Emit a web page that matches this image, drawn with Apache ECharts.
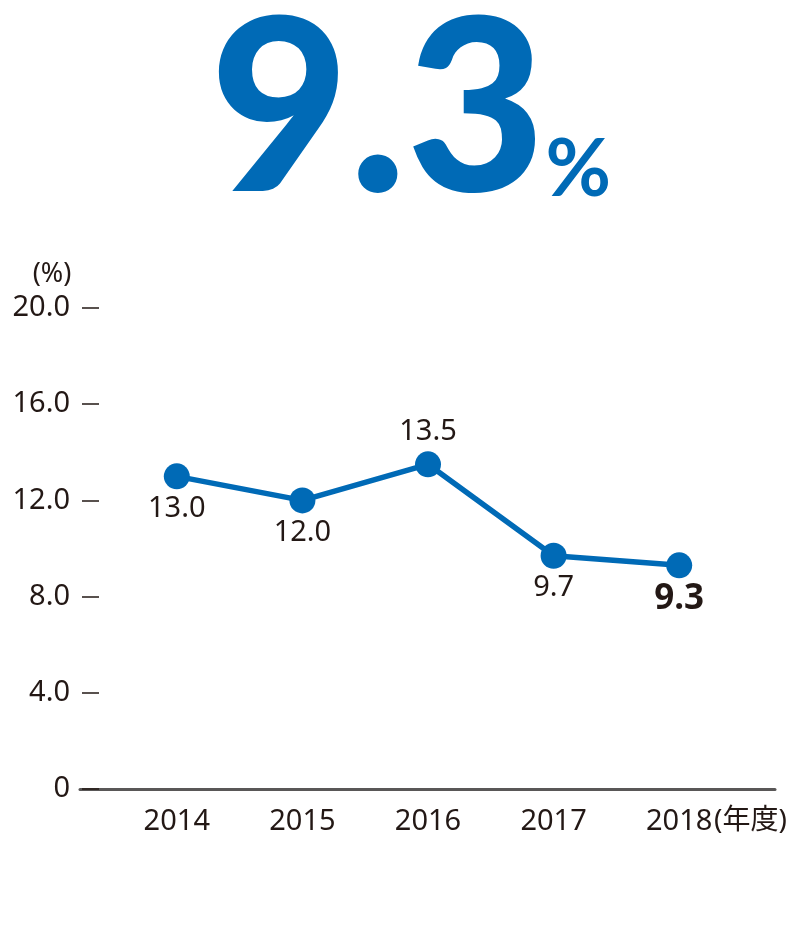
<!DOCTYPE html>
<html>
<head>
<meta charset="utf-8">
<script src="https://cdn.jsdelivr.net/npm/echarts@6/dist/echarts.min.js"></script>
<style>
html,body{margin:0;padding:0;background:#fff;}
#chart{width:800px;height:950px;}
</style>
</head>
<body>
<div id="chart"></div>
<script>
var categories = ['2014', '2015', '2016', '2017', '2018'];
var values = [13.0, 12.0, 13.5, 9.7, 9.3];
var labelPositions = ['bottom', 'bottom', 'top', 'bottom', 'bottom'];
var yTicks = [0, 4, 8, 12, 16, 20];
var headline = '9.3';
var unitName = '(%)';
var yearSuffix = '(年度)';

var BLUE = '#006ab6';
var DARK = '#231815';
var FONT = '"Noto Sans", "Noto Sans CJK JP", sans-serif';

var chart = echarts.init(document.getElementById('chart'), null, {renderer: 'canvas'});

var seriesData = values.map(function (v, i) {
  var last = i === values.length - 1;
  return {
    value: v,
    label: {
      position: labelPositions[i],
      distance: last ? 3 : 5,
      fontSize: last ? 35 : 29,
      fontWeight: last ? 'bold' : 'normal',
      color: DARK
    }
  };
});

var option = {
  animation: false,
  backgroundColor: '#fff',
  title: {
    text: '{a|' + headline + '}{b|%}',
    left: 205,
    top: -11,
    textStyle: {
      rich: {
        a: {fontSize: 240, fontWeight: 900, fontFamily: 'Lato, "Open Sans", sans-serif', color: BLUE, lineHeight: 240},
        b: {fontSize: 80, fontWeight: 'bold', fontFamily: 'Lato, "Open Sans", sans-serif', color: BLUE, verticalAlign: 'bottom', padding: [0,0,24,0]}
      }
    }
  },
  grid: [
    {left: 114, right: 58, top: 308, bottom: 161, containLabel: false},
    {left: 80, right: 25, top: 308, bottom: 161, containLabel: false}
  ],
  xAxis: [
    {
      type: 'category',
      gridIndex: 0,
      data: categories,
      boundaryGap: true,
      axisLine: {show: false},
      axisTick: {show: false},
      axisLabel: {
        interval: 0,
        margin: 18,
        fontSize: 29,
        fontFamily: FONT,
        color: DARK,
        formatter: function (v, idx) {
          if (idx === categories.length - 1) {
            return '{pad|}{y|' + v + '}{s|' + yearSuffix + '}';
          }
          return '{y|' + v + '}';
        },
        rich: {
          y: {fontSize: 29, fontFamily: FONT, color: DARK},
          s: {fontSize: 28, fontFamily: FONT, color: DARK, width: 76},
          pad: {width: 76}
        }
      }
    },
    {
      type: 'value',
      gridIndex: 1,
      min: 0,
      max: 1,
      axisLine: {show: true, lineStyle: {color: '#595757', width: 3}},
      axisTick: {show: false},
      axisLabel: {show: false},
      splitLine: {show: false}
    }
  ],
  yAxis: [
    {
      type: 'value',
      gridIndex: 0,
      min: 0,
      max: 20,
      interval: 4,
      offset: 15,
      name: unitName,
      nameLocation: 'end',
      nameGap: 20,
      nameTextStyle: {fontSize: 27, fontFamily: FONT, color: DARK, align: 'center', padding: [0, 0, 0, -94]},
      axisLine: {show: false},
      axisTick: {show: true, length: 17, lineStyle: {color: DARK, width: 1.5}},
      axisLabel: {
        margin: 29,
        fontSize: 29,
        fontFamily: FONT,
        color: DARK,
        formatter: function (v) { return v === 0 ? '0' : v.toFixed(1); }
      },
      splitLine: {show: false}
    },
    {
      type: 'value',
      gridIndex: 1,
      min: 0,
      max: 20,
      show: false
    }
  ],
  series: [
    {
      type: 'line',
      xAxisIndex: 0,
      yAxisIndex: 0,
      data: seriesData,
      symbol: 'circle',
      symbolSize: 26,
      lineStyle: {color: BLUE, width: 5.5},
      itemStyle: {color: BLUE},
      label: {show: true, fontFamily: FONT, formatter: function (p) { return p.value.toFixed(1); }},
      z: 5
    }
  ]
};

chart.setOption(option);
</script>
</body>
</html>
